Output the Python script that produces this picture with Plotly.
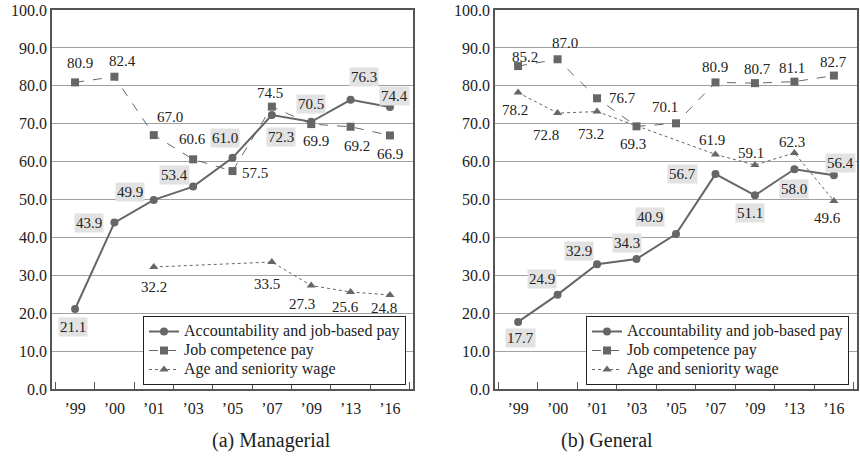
import plotly.graph_objects as go

years = ["\u201999", "\u201900", "\u201901", "\u201903", "\u201905", "\u201907", "\u201909", "\u201913", "\u201916"]

# (a) Managerial
man_acct = [21.1, 43.9, 49.9, 53.4, 61.0, 72.3, 70.5, 76.3, 74.4]
man_comp = [80.9, 82.4, 67.0, 60.6, 57.5, 74.5, 69.9, 69.2, 66.9]
man_age = [None, None, 32.2, None, None, 33.5, 27.3, 25.6, 24.8]

# (b) General
gen_acct = [17.7, 24.9, 32.9, 34.3, 40.9, 56.7, 51.1, 58.0, 56.4]
gen_comp = [85.2, 87.0, 76.7, 69.3, 70.1, 80.9, 80.7, 81.1, 82.7]
gen_age = [78.2, 72.8, 73.2, None, None, 61.9, 59.1, 62.3, 49.6]

series_names = ["Accountability and job-based pay", "Job competence pay", "Age and seniority wage"]
panel_titles = ["(a) Managerial", "(b) General"]
y_ticks = [0, 10, 20, 30, 40, 50, 60, 70, 80, 90, 100]

# label offsets (pixels, dx, dy with dy positive = up)
man_acct_off = [(-2, -18), (-25, 0), (-24, 8), (-19, 12), (-8, 20), (9, -22), (0, 18), (13, 23), (5, 11)]
man_comp_off = [(5, 19), (8, 16), (16, 18), (-1, 20), (22, -2), (-2, 14), (5, -17), (6, -19), (0, -19)]
man_age_off = [None, None, (0, -20), None, None, (-5, -22), (-9, -18), (-5, -15), (-6, -13)]
gen_acct_off = [(2, -16), (-16, 16), (-18, 13), (-10, 16), (-26, 17), (-33, 0), (-5, -18), (0, -20), (7, 12)]
gen_comp_off = [(7, 9), (7, 16), (25, 0), (-4, -18), (-11, 16), (0, 15), (3, 14), (-2, 14), (0, 14)]
gen_age_off = [(-3, -17), (-12, -22), (-6, -22), None, None, (-3, 14), (-4, 12), (-2, 11), (-6, -17)]

FONT = "Liberation Serif"
LINE = "#666666"
TXT = "#222222"

fig = go.Figure()

panels = [
    (man_acct, man_comp, man_age, man_acct_off, man_comp_off, man_age_off, "x", "y", "legend"),
    (gen_acct, gen_comp, gen_age, gen_acct_off, gen_comp_off, gen_age_off, "x2", "y2", "legend2"),
]


def lname(s):
    return f"<span style='font-size:16px'>{s}</span>"


annotations = []
for acct, comp, age, ao, co, go_, xa, ya, lg in panels:
    fig.add_trace(go.Scatter(x=years, y=age, name=lname(series_names[2]), mode="lines+markers",
                             connectgaps=True, xaxis=xa, yaxis=ya, legend=lg, legendrank=3,
                             line=dict(color=LINE, width=1, dash="dot"),
                             marker=dict(symbol="triangle-up", size=8, color=LINE)))
    fig.add_trace(go.Scatter(x=years, y=comp, name=lname(series_names[1]), mode="lines+markers",
                             xaxis=xa, yaxis=ya, legend=lg, legendrank=2,
                             line=dict(color=LINE, width=1, dash="dash"),
                             marker=dict(symbol="square", size=8, color=LINE)))
    fig.add_trace(go.Scatter(x=years, y=acct, name=lname(series_names[0]), mode="lines+markers",
                             xaxis=xa, yaxis=ya, legend=lg, legendrank=1,
                             line=dict(color=LINE, width=2),
                             marker=dict(symbol="circle", size=8, color=LINE)))
    for vals, offs, boxed in ((acct, ao, True), (comp, co, False), (age, go_, False)):
        for cat, v, off in zip(years, vals, offs):
            if v is None or off is None:
                continue
            a = dict(x=cat, y=v, xref=xa, yref=ya, text=f"{v:.1f}", showarrow=False,
                     xshift=off[0], yshift=off[1], font=dict(family=FONT, size=15, color=TXT))
            if boxed:
                a.update(bgcolor="#e2e2e2", borderpad=1)
            annotations.append(a)

annotations.append(dict(x=210 / 860, y=1 - 440 / 467, xref="paper", yref="paper", text=panel_titles[0],
                        showarrow=False, yanchor="middle", font=dict(family=FONT, size=20, color=TXT)))
annotations.append(dict(x=655 / 860, y=1 - 440 / 467, xref="paper", yref="paper", text=panel_titles[1],
                        showarrow=False, yanchor="middle", font=dict(family=FONT, size=20, color=TXT)))

ydom = [78 / 467, 457 / 467]
xcommon = dict(type="category", categoryorder="array", categoryarray=years, ticks="inside",
               tickson="boundaries", ticklen=7, tickcolor="#555555", showgrid=False,
               showline=True, linecolor="#555555", linewidth=1.5, mirror=True, ticklabelstandoff=4,
               tickfont=dict(family=FONT, size=16, color=TXT), automargin=False)
ycommon = dict(range=[0, 100], tickvals=y_ticks, ticktext=[f"{t:.1f}" for t in y_ticks],
               showgrid=True, gridcolor="#a0a0a0", gridwidth=1, showline=True,
               linecolor="#555555", linewidth=1.5, mirror=True, ticks="",
               tickfont=dict(family=FONT, size=16, color=TXT), automargin=False, zeroline=False)

legcommon = dict(font=dict(family=FONT, size=11, color=TXT), bgcolor="white", bordercolor="#222222",
                 borderwidth=1, xanchor="left", yanchor="top", tracegroupgap=0, itemwidth=30)

fig.update_layout(
    width=860, height=467,
    margin=dict(l=0, r=0, t=0, b=0),
    paper_bgcolor="white", plot_bgcolor="white",
    xaxis=dict(domain=[52 / 860, 413 / 860], anchor="y", **xcommon),
    yaxis=dict(domain=ydom, anchor="x", **ycommon),
    xaxis2=dict(domain=[495 / 860, 857 / 860], anchor="y2", **xcommon),
    yaxis2=dict(domain=ydom, anchor="x2", **ycommon),
    legend=dict(x=143 / 860, y=1 - 316 / 467, **legcommon),
    legend2=dict(x=586 / 860, y=1 - 316 / 467, **legcommon),
    annotations=annotations,
    showlegend=True,
)

fig.write_html("out.html", config={"displayModeBar": False},
               post_script="document.body.style.margin='0';document.body.style.padding='0';")
